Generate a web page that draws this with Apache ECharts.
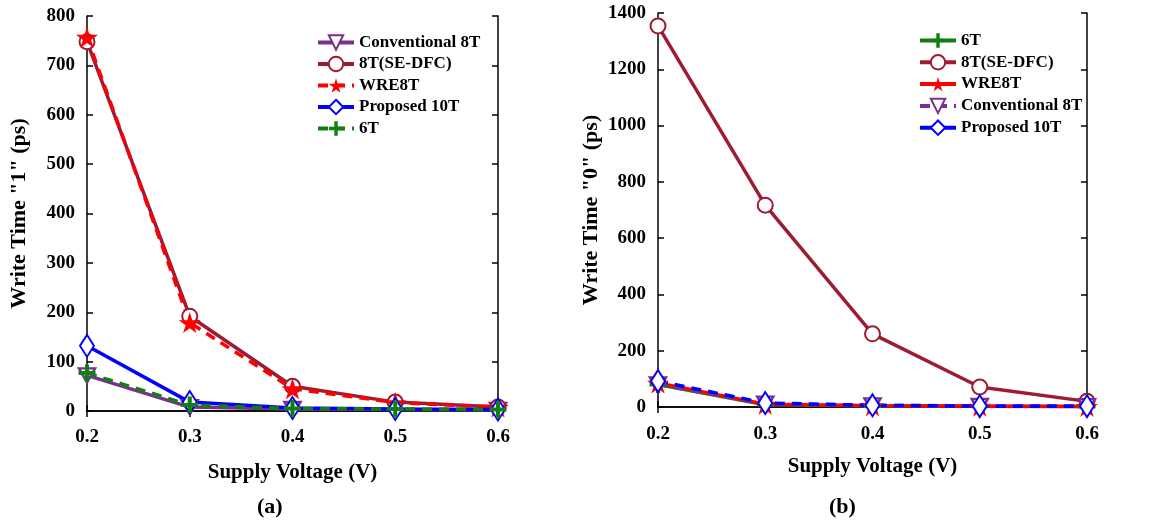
<!DOCTYPE html>
<html><head><meta charset="utf-8">
<script src="https://cdn.jsdelivr.net/npm/echarts@6/dist/echarts.min.js"></script>
<style>html,body{margin:0;padding:0;background:#fff}#c{width:1151px;height:532px}</style>
</head><body><div id="c"></div>
<script>
const voltages = [0.2, 0.3, 0.4, 0.5, 0.6];
// (a) Write time "1" (ps)
const a_conv8T = [72, 8, 4, 3, 2];
const a_8Tsedfc = [748, 192, 50, 18, 8];
const a_wre8T = [757, 179, 45, 17, 8];
const a_prop10T = [132, 18, 6, 4, 3];
const a_6T = [77, 12, 5, 4, 3];
// (b) Write time "0" (ps)
const b_6T = [80, 8, 4, 3, 2];
const b_8Tsedfc = [1354, 717, 260, 71, 20];
const b_wre8T = [85, 10, 4, 3, 2];
const b_conv8T = [80, 12, 6, 4, 3];
const b_prop10T = [92, 14, 6, 3, 3];
const aYTicks = {min: 0, max: 800, interval: 100};
const bYTicks = {min: 0, max: 1400, interval: 200};

const C = {conv:'#7B2F8E', sedfc:'#9E1B32', wre:'#FF0000', prop:'#0000FF', six:'#118011'};
const STAR = 'path://M50,0 L61,35 L98,35 L68,57 L79,91 L50,70 L21,91 L32,57 L2,35 L39,35 Z';
const PLUS = 'path://M38,0 H62 V38 H100 V62 H62 V100 H38 V62 H0 V38 H38 Z';
const TRI = 'path://M0,0 L100,0 L50,90 Z';
const FONT = '"Liberation Serif", "Times New Roman", serif';

function pts(v){ return voltages.map((x,i)=>[x, v[i]]); }
function mk(name, vals, kind, dashed, gi){
  const s = {name, type:'line', data:pts(vals), xAxisIndex:gi*2, yAxisIndex:gi*2,
    lineStyle:{width:3.5, type: dashed ? [10,7] : 'solid'}, showSymbol:true, animation:false};
  if(kind==='conv'){ s.symbol=TRI; s.symbolSize=[16,14]; s.lineStyle.color=C.conv; s.itemStyle={color:'#fff', borderColor:C.conv, borderWidth:2.5}; }
  if(kind==='sedfc'){ s.symbol='emptyCircle'; s.symbolSize=15; s.lineStyle.color=C.sedfc; s.itemStyle={color:C.sedfc, borderWidth:2.5}; }
  if(kind==='wre'){ s.symbol=STAR; s.symbolSize=[22,21]; s.lineStyle.color=C.wre; s.itemStyle={color:C.wre}; }
  if(kind==='prop'){ s.symbol='emptyDiamond'; s.symbolSize=[14,22]; s.lineStyle.color=C.prop; s.itemStyle={color:C.prop, borderWidth:2.5}; }
  if(kind==='six'){ s.symbol=PLUS; s.symbolSize=[17,17]; s.lineStyle.color=C.six; s.itemStyle={color:C.six}; }
  return s;
}
const lbl = {fontFamily:FONT, fontWeight:'bold', fontSize:19, color:'#000'};
function xAxes(gi, margin, gap){
  return [
    {type:'value', gridIndex:gi, min:0.2, max:0.6, interval:0.1, position:'bottom',
     axisLine:{show:true, lineStyle:{color:'#000', width:1.5}}, axisTick:{inside:true, length:6, lineStyle:{color:'#000', width:1.5}},
     splitLine:{show:false}, axisLabel:Object.assign({margin:margin, formatter:v=>v.toFixed(1)}, lbl),
     name:'Supply Voltage (V)', nameLocation:'middle', nameGap:gap,
     nameTextStyle:{fontFamily:FONT, fontWeight:'bold', fontSize:21, color:'#000'}},
    {type:'value', gridIndex:gi, min:0.2, max:0.6, interval:0.1, position:'top',
     axisLine:{show:true, lineStyle:{color:'#000', width:1.5}}, axisTick:{inside:true, length:6, lineStyle:{color:'#000', width:1.5}},
     splitLine:{show:false}, axisLabel:{show:false}}
  ];
}
function yAxes(gi, t, name, margin, gap){
  return [
    {type:'value', gridIndex:gi, min:t.min, max:t.max, interval:t.interval, position:'left',
     axisLine:{show:true, lineStyle:{color:'#000', width:1.5}}, axisTick:{inside:true, length:6, lineStyle:{color:'#000', width:1.5}},
     splitLine:{show:false}, axisLabel:Object.assign({margin:margin, formatter:v=>String(v)}, lbl),
     name:name, nameLocation:'middle', nameGap:gap,
     nameTextStyle:{fontFamily:FONT, fontWeight:'bold', fontSize:22, color:'#000'}},
    {type:'value', gridIndex:gi, min:t.min, max:t.max, interval:t.interval, position:'right',
     axisLine:{show:true, lineStyle:{color:'#000', width:1.5}}, axisTick:{inside:true, length:6, lineStyle:{color:'#000', width:1.5}},
     splitLine:{show:false}, axisLabel:{show:false}}
  ];
}
const legText = {fontFamily:FONT, fontWeight:'bold', fontSize:17, color:'#000'};
const chart = echarts.init(document.getElementById('c'), null, {renderer:'canvas'});
chart.setOption({
  animation:false,
  backgroundColor:'#fff',
  grid:[{left:87, top:16, width:411, height:395}, {left:658, top:13, width:429, height:394}],
  xAxis:[...xAxes(0, 17, 51), ...xAxes(1, 18, 49)],
  yAxis:[...yAxes(0, aYTicks, 'Write Time "1" (ps)', 12, 57), ...yAxes(1, bYTicks, 'Write Time "0" (ps)', 12, 56)],
  legend:[
    {left:316, top:34, padding:0, orient:'vertical', itemWidth:36, itemHeight:18, itemGap:4.5, textStyle:legText,
     lineStyle:{width:4}, selectedMode:false,
     data:['Conventional 8T','8T(SE-DFC)','WRE8T','Proposed 10T','6T'].map(n=>({name:n}))},
    {left:918, top:32, padding:0, orient:'vertical', itemWidth:36, itemHeight:18, itemGap:4.8, textStyle:legText,
     lineStyle:{width:4}, selectedMode:false,
     data:[{name:'6T '},{name:'8T(SE-DFC) '},{name:'WRE8T '},{name:'Conventional 8T '},{name:'Proposed 10T ', lineStyle:{type:'solid', width:4}}],
     formatter:n=>n.trim()}
  ],
  series:[
    mk('Conventional 8T', a_conv8T, 'conv', false, 0),
    mk('8T(SE-DFC)', a_8Tsedfc, 'sedfc', false, 0),
    mk('WRE8T', a_wre8T, 'wre', true, 0),
    mk('Proposed 10T', a_prop10T, 'prop', false, 0),
    mk('6T', a_6T, 'six', true, 0),
    mk('6T ', b_6T, 'six', false, 1),
    mk('8T(SE-DFC) ', b_8Tsedfc, 'sedfc', false, 1),
    mk('WRE8T ', b_wre8T, 'wre', false, 1),
    mk('Conventional 8T ', b_conv8T, 'conv', true, 1),
    mk('Proposed 10T ', b_prop10T, 'prop', true, 1)
  ],
  graphic:[
    {type:'text', left:257, top:496, style:{text:'(a)', font:'bold 22px '+FONT, fill:'#000'}},
    {type:'text', left:829, top:496, style:{text:'(b)', font:'bold 22px '+FONT, fill:'#000'}}
  ]
});
</script></body></html>
